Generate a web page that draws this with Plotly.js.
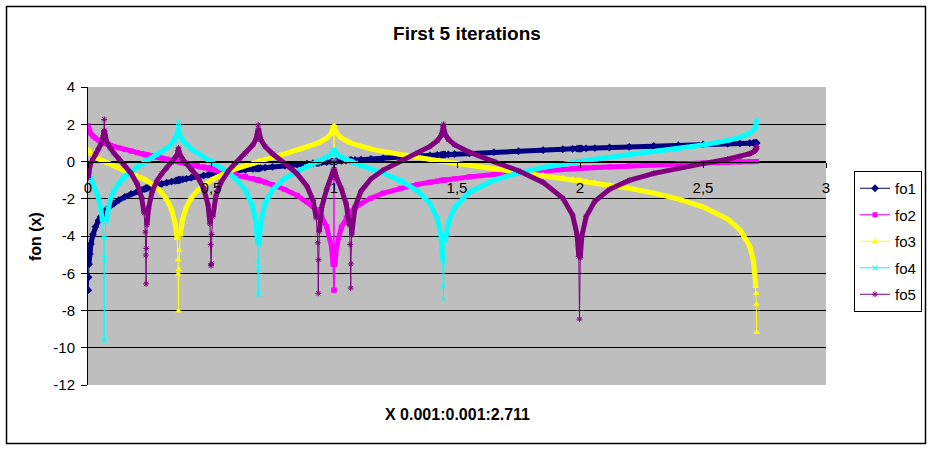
<!DOCTYPE html>
<html>
<head>
<meta charset="utf-8">
<script src="https://cdn.plot.ly/plotly-3.0.1.min.js"></script>
<style>html,body{margin:0;padding:0;background:#fff;}#chart{width:934px;height:450px;}</style>
</head>
<body>
<div id="chart"></div>
<script>
const xValues = [0.001,0.002,0.004,0.007,0.012,0.02,0.03,0.042,0.052,0.059,
0.063,0.065,0.066,0.067,0.069,0.073,0.08,0.09,0.105,0.125,
0.15,0.175,0.2,0.218,0.228,0.233,0.235,0.236,0.237,0.24,
0.246,0.26,0.28,0.3,0.32,0.34,0.355,0.362,0.366,0.367,
0.368,0.369,0.371,0.375,0.385,0.4,0.42,0.445,0.47,0.488,
0.496,0.499,0.5,0.501,0.503,0.507,0.52,0.54,0.57,0.6,
0.64,0.67,0.683,0.689,0.691,0.692,0.693,0.695,0.702,0.72,
0.75,0.8,0.85,0.89,0.915,0.928,0.934,0.936,0.937,0.94,
0.95,0.97,0.99,0.996,0.999,1.0,1.001,1.004,1.01,1.03,
1.05,1.062,1.066,1.068,1.069,1.072,1.085,1.11,1.15,1.2,
1.27,1.34,1.39,1.42,1.435,1.442,1.444,1.445,1.447,1.452,
1.465,1.49,1.55,1.65,1.75,1.85,1.93,1.97,1.988,1.995,
1.998,2.001,2.007,2.025,2.06,2.12,2.2,2.3,2.4,2.5,
2.6,2.65,2.69,2.705,2.711,2.715,2.716,2.717,2.718];

const fo1 = [-6.908,-6.215,-5.521,-4.962,-4.423,-3.912,-3.507,-3.170,-2.957,-2.830,
-2.765,-2.733,-2.718,-2.703,-2.674,-2.617,-2.526,-2.408,-2.254,-2.079,
-1.897,-1.743,-1.609,-1.523,-1.478,-1.457,-1.448,-1.444,-1.440,-1.427,
-1.402,-1.347,-1.273,-1.204,-1.139,-1.079,-1.036,-1.016,-1.005,-1.002,
-1.000,-0.997,-0.992,-0.981,-0.955,-0.916,-0.868,-0.810,-0.755,-0.717,
-0.701,-0.695,-0.693,-0.691,-0.687,-0.679,-0.654,-0.616,-0.562,-0.511,
-0.446,-0.400,-0.381,-0.373,-0.370,-0.368,-0.367,-0.364,-0.354,-0.329,
-0.288,-0.223,-0.163,-0.117,-0.089,-0.075,-0.068,-0.066,-0.065,-0.062,
-0.051,-0.030,-0.010,-0.004,-0.001,0,0.001,0.004,0.010,0.030,
0.049,0.060,0.064,0.066,0.067,0.070,0.082,0.104,0.140,0.182,
0.239,0.293,0.329,0.351,0.361,0.366,0.367,0.368,0.369,0.373,
0.382,0.399,0.438,0.501,0.560,0.615,0.658,0.678,0.687,0.691,
0.692,0.694,0.697,0.706,0.723,0.751,0.788,0.833,0.875,0.916,
0.956,0.975,0.990,0.995,0.997,0.999,0.999,1.000,1.000];

const fo2 = [1.933,1.827,1.709,1.602,1.487,1.364,1.255,1.154,1.084,1.040,
1.017,1.006,1.000,0.994,0.983,0.962,0.927,0.879,0.813,0.732,
0.640,0.556,0.476,0.421,0.391,0.376,0.370,0.367,0.364,0.356,
0.338,0.298,0.241,0.186,0.131,0.076,0.035,0.016,0.005,0.002,
0.000,-0.003,-0.008,-0.019,-0.047,-0.087,-0.142,-0.211,-0.281,-0.332,
-0.355,-0.364,-0.367,-0.369,-0.375,-0.387,-0.425,-0.484,-0.576,-0.672,
-0.807,-0.915,-0.964,-0.987,-0.995,-0.999,-1.003,-1.011,-1.039,-1.113,
-1.246,-1.500,-1.817,-2.150,-2.421,-2.594,-2.684,-2.716,-2.732,-2.783,
-2.970,-3.491,-4.600,-5.519,-6.907,0,-6.908,-5.523,-4.610,-3.521,
-3.020,-2.811,-2.750,-2.721,-2.707,-2.666,-2.506,-2.260,-1.968,-1.702,
-1.431,-1.229,-1.111,-1.048,-1.018,-1.005,-1.001,-0.999,-0.996,-0.986,
-0.963,-0.919,-0.825,-0.692,-0.581,-0.486,-0.419,-0.389,-0.375,-0.370,
-0.368,-0.366,-0.361,-0.349,-0.325,-0.286,-0.238,-0.183,-0.133,-0.087,
-0.046,-0.026,-0.011,-0.005,-0.003,-0.001,-0.001,0.000,0.000];

const fo3 = [0.659,0.603,0.536,0.471,0.397,0.310,0.227,0.143,0.081,0.040,
0.017,0.006,0.000,-0.006,-0.017,-0.039,-0.076,-0.129,-0.207,-0.312,
-0.446,-0.588,-0.743,-0.865,-0.939,-0.978,-0.993,-1.001,-1.009,-1.034,
-1.084,-1.211,-1.422,-1.684,-2.036,-2.579,-3.352,-4.136,-5.277,-6.036,
-8.023,-5.794,-4.770,-3.945,-3.067,-2.437,-1.951,-1.555,-1.269,-1.102,
-1.036,-1.012,-1.004,-0.996,-0.980,-0.950,-0.856,-0.725,-0.552,-0.398,
-0.215,-0.089,-0.036,-0.013,-0.005,-0.001,0.003,0.011,0.038,0.107,
0.220,0.405,0.597,0.765,0.884,0.953,0.987,0.999,1.005,1.023,
1.089,1.250,1.526,1.708,1.933,0,1.933,1.709,1.528,1.259,
1.105,1.033,1.012,1.001,0.996,0.981,0.919,0.815,0.677,0.532,
0.359,0.206,0.105,0.047,0.018,0.005,0.001,-0.001,-0.004,-0.014,
-0.038,-0.084,-0.192,-0.369,-0.544,-0.722,-0.869,-0.945,-0.980,-0.994,
-1.000,-1.006,-1.018,-1.053,-1.125,-1.252,-1.437,-1.699,-2.017,-2.437,
-3.090,-3.659,-4.555,-5.316,-5.920,-6.718,-7.082,-7.659,-9.174];

const fo4 = [-0.417,-0.506,-0.624,-0.753,-0.925,-1.170,-1.483,-1.945,-2.517,-3.230,
-4.089,-5.199,-9.615,-5.179,-4.093,-3.255,-2.573,-2.046,-1.573,-1.165,
-0.808,-0.531,-0.298,-0.144,-0.063,-0.023,-0.007,0.001,0.009,0.033,
0.081,0.191,0.352,0.521,0.711,0.947,1.210,1.420,1.663,1.798,
2.082,1.757,1.562,1.372,1.121,0.891,0.668,0.442,0.239,0.098,
0.035,0.012,0.004,-0.004,-0.020,-0.051,-0.155,-0.321,-0.595,-0.922,
-1.539,-2.422,-3.314,-4.374,-5.356,-7.146,-5.764,-4.512,-3.264,-2.233,
-1.515,-0.903,-0.516,-0.268,-0.123,-0.048,-0.013,-0.001,0.005,0.023,
0.085,0.223,0.423,0.535,0.659,0,0.659,0.536,0.424,0.230,
0.100,0.033,0.012,0.001,-0.004,-0.020,-0.085,-0.204,-0.390,-0.632,
-1.026,-1.580,-2.253,-3.061,-4.003,-5.294,-6.679,-7.378,-5.430,-4.286,
-3.270,-2.476,-1.648,-0.998,-0.609,-0.326,-0.140,-0.056,-0.020,-0.006,
0.000,0.006,0.017,0.052,0.118,0.225,0.362,0.530,0.702,0.891,
1.128,1.297,1.516,1.671,1.778,1.905,1.958,2.036,2.216];

const fo5 = [-0.874,-0.680,-0.471,-0.284,-0.078,0.157,0.394,0.665,0.923,1.172,
1.408,1.649,2.263,1.645,1.409,1.180,0.945,0.716,0.453,0.153,
-0.213,-0.632,-1.212,-1.935,-2.768,-3.791,-5.024,-6.571,-4.670,-3.404,
-2.516,-1.654,-1.045,-0.652,-0.341,-0.054,0.190,0.351,0.509,0.587,
0.734,0.563,0.446,0.317,0.114,-0.116,-0.403,-0.817,-1.433,-2.328,
-3.351,-4.461,-5.596,-5.489,-3.920,-2.968,-1.863,-1.136,-0.519,-0.082,
0.431,0.885,1.198,1.476,1.678,1.967,1.752,1.507,1.183,0.803,
0.415,-0.102,-0.662,-1.319,-2.095,-3.038,-4.365,-7.075,-5.275,-3.767,
-2.466,-1.499,-0.861,-0.625,-0.417,0,-0.417,-0.624,-0.858,-1.469,
-2.301,-3.413,-4.455,-6.797,-5.498,-3.933,-2.468,-1.589,-0.941,-0.460,
0.025,0.457,0.812,1.119,1.387,1.667,1.899,1.998,1.692,1.455,
1.185,0.907,0.500,-0.002,-0.496,-1.121,-1.965,-2.878,-3.913,-5.096,
-8.460,-5.172,-4.052,-2.956,-2.141,-1.491,-1.015,-0.635,-0.354,-0.116,
0.121,0.260,0.416,0.513,0.576,0.644,0.672,0.711,0.796];

const seriesNames = ['fo1','fo2','fo3','fo4','fo5'];
const xTickVals = [0,0.5,1,1.5,2,2.5,3];
const xTickLabels = ['0','0,5','1','1,5','2','2,5','3'];
const yTickVals = [-12,-10,-8,-6,-4,-2,0,2,4];
const yTickLabels = ['-12','-10','-8','-6','-4','-2','0','2','4'];
const chartTitle = 'First 5 iterations';
const xTitle = 'X 0.001:0.001:2.711';
const yTitle = 'fon (x)';

const FONT = 'Liberation Sans, Arial, sans-serif';
const allY = [fo1, fo2, fo3, fo4, fo5];
const colors = ['#000080','#FF00FF','#FFFF00','#00FFFF','#800080'];
const symbols = ['diamond','square','triangle-up','x-thin-open','asterisk-open'];
const msizes = [6,5,6,5,5];

// thick band where consecutive points are close enough that the dense markers overlap
function band(xs, ys, maxSlope) {
  const bx = [], by = [];
  for (let i = 0; i < xs.length; i++) {
    bx.push(xs[i]); by.push(ys[i]);
    if (i < xs.length - 1) {
      const s = Math.abs((ys[i+1] - ys[i]) / (xs[i+1] - xs[i]));
      if (s > maxSlope) { bx.push(null); by.push(null); }
    }
  }
  return {bx, by};
}

const traces = [];
allY.forEach((ys, k) => {
  const b = band(xValues, ys, 200);
  traces.push({
    type: 'scatter', mode: 'lines', x: b.bx, y: b.by,
    line: {color: colors[k], width: 5}, showlegend: false, hoverinfo: 'skip',
    connectgaps: false, legendgroup: 'g' + k
  });
  traces.push({
    type: 'scatter', mode: 'lines+markers', name: seriesNames[k],
    x: xValues, y: ys, legendgroup: 'g' + k,
    line: {color: colors[k], width: 1},
    marker: {symbol: symbols[k], size: msizes[k], color: colors[k],
             line: {color: colors[k], width: (k >= 3 ? 1 : 0)}}
  });
});

const W = 934, H = 450, L = 88, R = 108, T = 87, B = 65;
const pw = W - L - R, ph = H - T - B;
const px = v => (v - L) / pw;
const py = v => (H - B - v) / ph;

const layout = {
  width: W, height: H,
  margin: {l: L, r: R, t: T, b: B, pad: 0},
  paper_bgcolor: '#FFFFFF',
  plot_bgcolor: '#BEBEBE',
  font: {family: FONT, color: '#000000', size: 15},
  title: {text: chartTitle, font: {family: FONT, size: 19, weight: 700, color: '#000'},
          x: 0.5, xref: 'container', y: 1 - 33.5 / H, yref: 'container', yanchor: 'middle'},
  xaxis: {
    range: [0, 3], tickvals: xTickVals, ticktext: xTickLabels,
    anchor: 'free', position: 0.75,
    showgrid: false, zeroline: false,
    showline: true, linecolor: '#000', linewidth: 1,
    ticks: 'outside', ticklen: 5, tickcolor: '#000', tickwidth: 1,
    ticklabelstandoff: 7,
    tickfont: {family: FONT, size: 15, color: '#000'}
  },
  yaxis: {
    range: [-12, 4], tickvals: yTickVals, ticktext: yTickLabels,
    showgrid: true, gridcolor: '#000', gridwidth: 1, zeroline: false,
    showline: true, linecolor: '#000', linewidth: 1,
    ticks: 'outside', ticklen: 6, tickcolor: '#000', tickwidth: 1,
    ticklabelstandoff: 3,
    tickfont: {family: FONT, size: 15, color: '#000'}
  },
  legend: {
    x: px(854), y: py(171), xanchor: 'left', yanchor: 'top',
    bgcolor: '#FFFFFF', bordercolor: '#000', borderwidth: 1,
    font: {family: FONT, size: 15, color: '#000'},
    traceorder: 'grouped', tracegroupgap: 4, itemwidth: 30
  },
  annotations: [
    {text: yTitle, xref: 'paper', yref: 'paper', x: px(35), y: py(237),
     xanchor: 'center', yanchor: 'middle', textangle: -90, showarrow: false,
     font: {family: FONT, size: 16, weight: 700, color: '#000'}},
    {text: xTitle, xref: 'paper', yref: 'paper', x: px(457), y: py(414),
     xanchor: 'center', yanchor: 'middle', showarrow: false,
     font: {family: FONT, size: 16, weight: 700, color: '#000'}}
  ],
  shapes: [
    {type: 'rect', xref: 'paper', yref: 'paper', x0: px(6.5), x1: px(925.5), y0: py(443.5), y1: py(6.5),
     line: {color: '#000', width: 1.5}, fillcolor: 'rgba(0,0,0,0)', layer: 'below'}
  ],
  showlegend: true
};

Plotly.newPlot('chart', traces, layout, {displayModeBar: false, staticPlot: true});
</script>
</body>
</html>
